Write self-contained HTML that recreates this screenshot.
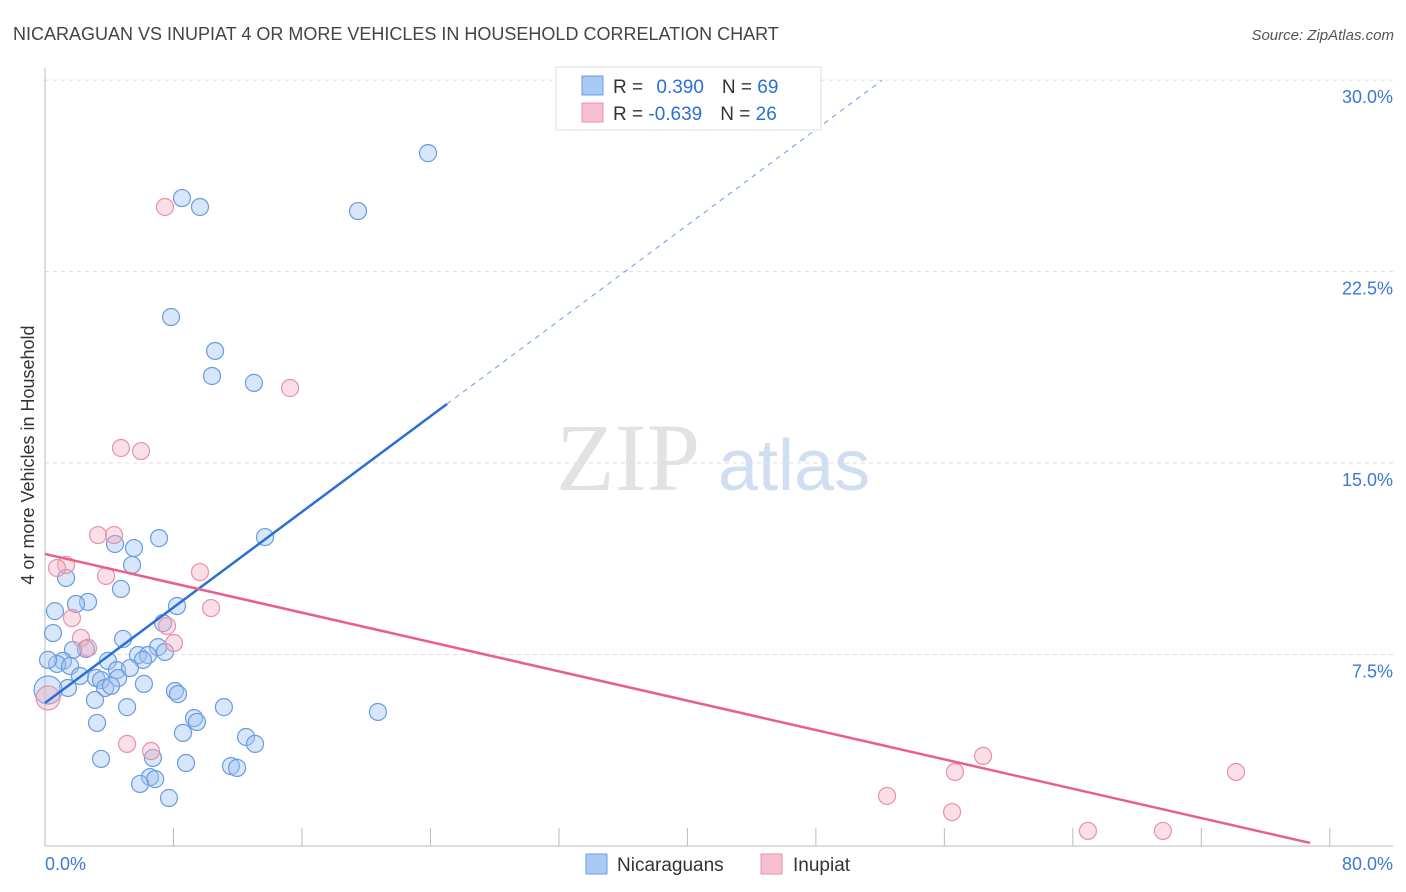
<!DOCTYPE html>
<html><head><meta charset="utf-8"><style>
body{margin:0;background:#fff;font-family:"Liberation Sans",sans-serif}
svg{display:block}
</style></head><body>
<svg id="c" width="1406" height="892">
<text x="13" y="40" font-size="18" fill="#444">NICARAGUAN VS INUPIAT 4 OR MORE VEHICLES IN HOUSEHOLD CORRELATION CHART</text>
<text x="1394" y="40" font-size="15" fill="#555" font-style="italic" text-anchor="end">Source: ZipAtlas.com</text>
<text x="556" y="490" font-size="96" fill="#e2e2e2" font-family="Liberation Serif,serif">ZIP</text>
<text x="718" y="490" font-size="72" fill="#d0def2">atlas</text>
<text transform="translate(34,455) rotate(-90)" font-size="18" fill="#333" text-anchor="middle">4 or more Vehicles in Household</text>
<g id="grid"></g><g id="marks"></g>
<g>
<rect x="556" y="67" width="265" height="63" fill="#fff" stroke="#ddd"/>
<rect x="582" y="76" width="21" height="19" fill="#a9c8f2" stroke="#6a9be0"/>
<rect x="582" y="103" width="21" height="19" fill="#f7c0cf" stroke="#e891a8"/>
<text x="613" y="93" font-size="19" fill="#333">R = <tspan fill="#2b6fd6" dx="8">0.390</tspan><tspan fill="#333" dx="18">N = </tspan><tspan fill="#2b6fd6">69</tspan></text>
<text x="613" y="120" font-size="19" fill="#333">R = <tspan fill="#2b6fd6">-0.639</tspan><tspan fill="#333" dx="18">N = </tspan><tspan fill="#2b6fd6">26</tspan></text>
</g>
<g>
<rect x="586" y="854" width="21" height="20" fill="#a9c8f2" stroke="#6a9be0"/>
<text x="617" y="871" font-size="19" fill="#333">Nicaraguans</text>
<rect x="761" y="854" width="21" height="20" fill="#f7c0cf" stroke="#e891a8"/>
<text x="793" y="871" font-size="19" fill="#333">Inupiat</text>
</g>
</svg>
<script>
const blueX=[23.85,8.53,9.65,19.49,7.85,10.59,10.40,13.01,13.70,7.10,4.36,5.54,5.42,1.31,4.73,0.62,2.68,1.93,8.22,0.50,4.86,7.35,7.04,2.55,1.74,7.47,5.79,6.41,6.10,3.92,1.12,0.75,1.56,0.19,4.48,5.29,2.18,3.18,3.49,4.55,6.16,1.43,3.74,4.11,0.19,8.09,8.28,3.11,5.11,11.14,20.73,9.28,9.46,3.24,8.59,12.52,13.08,3.49,6.72,8.78,11.58,11.96,6.54,6.86,5.92,7.72];
const blueY=[27.14,25.38,25.03,24.87,20.72,19.39,18.41,18.14,12.10,12.06,11.83,11.67,11.01,10.50,10.07,9.20,9.56,9.48,9.40,8.34,8.11,8.73,7.79,7.72,7.68,7.60,7.48,7.48,7.29,7.25,7.25,7.13,7.05,7.29,6.89,6.97,6.66,6.58,6.50,6.58,6.35,6.19,6.19,6.27,6.11,6.07,5.95,5.72,5.44,5.44,5.25,5.01,4.86,4.82,4.43,4.27,4.00,3.41,3.45,3.25,3.13,3.06,2.70,2.62,2.43,1.88];
const pinkX=[7.47,15.26,4.73,5.98,3.30,4.30,1.31,0.75,3.80,9.65,10.34,1.68,2.24,2.68,7.60,8.03,0.19,5.11,6.60,52.43,56.66,58.41,56.48,64.94,69.61,74.16];
const pinkY=[25.03,17.94,15.59,15.47,12.18,12.18,11.01,10.89,10.58,10.73,9.32,8.93,8.15,7.76,8.62,7.95,5.80,4.00,3.72,1.96,2.90,3.53,1.33,0.59,0.59,2.90];
const blueTrend=[5.60,0.468];
const pinkTrend=[11.44,-0.1437];
const yTicks=[7.5,15,22.5,30];
const yTickLabels=["7.5%","15.0%","22.5%","30.0%"];
const xTicks=[0,8,16,24,32,40,48,56,64,72,80];
const xs=v=>45+v*16.06, ys=v=>846-v*25.53;
const NS="http://www.w3.org/2000/svg";
const grid=document.getElementById('grid'), marks=document.getElementById('marks');
function mk(p,tag,a){const e=document.createElementNS(NS,tag);for(const k in a)e.setAttribute(k,a[k]);p.appendChild(e);return e;}
yTicks.forEach((t,i)=>{
 const l=mk(grid,'line',{x1:45,x2:1393,y1:ys(t),y2:ys(t),stroke:'#ddd','stroke-dasharray':'4,4'});
 
 
 const tx=mk(grid,'text',{x:1393,y:ys(t)+23,'font-size':18,fill:'#3b78d8','text-anchor':'end'});
 tx.textContent=yTickLabels[i];
 
 
});
const ax=mk(grid,'line',{x1:45,x2:1393,y1:846,y2:846,stroke:'#bbb'});


const ay=mk(grid,'line',{x1:45,x2:45,y1:68,y2:846,stroke:'#bbb'});


xTicks.forEach(t=>{const l=mk(grid,'line',{x1:xs(t),x2:xs(t),y1:828,y2:846,stroke:'#bbb'});
 
 });
const x0=mk(grid,'text',{x:45,y:870,'font-size':18,fill:'#3b78d8'});x0.textContent='0.0%';


const x1=mk(grid,'text',{x:1393,y:870,'font-size':18,fill:'#3b78d8','text-anchor':'end'});x1.textContent='80.0%';


blueX.forEach((v,i)=>{const c=mk(marks,'circle',{cx:xs(v),cy:ys(blueY[i]),r:i==44?14:8.5,fill:'rgba(160,196,240,0.42)',stroke:'#6a9be0','stroke-width':1.2});
 
 });
pinkX.forEach((v,i)=>{const c=mk(marks,'circle',{cx:xs(v),cy:ys(pinkY[i]),r:i==16?12:8.5,fill:'rgba(245,170,190,0.38)',stroke:'#e891a8','stroke-width':1.2});
 
 });
const bEnd=25.03, bMax=(30-blueTrend[0])/blueTrend[1];
const bl=mk(marks,'line',{x1:xs(0),y1:ys(blueTrend[0]),x2:xs(bEnd),y2:ys(blueTrend[0]+blueTrend[1]*bEnd),stroke:'#2b6fd6','stroke-width':2.5});


const bd=mk(marks,'line',{x1:xs(bEnd),y1:ys(blueTrend[0]+blueTrend[1]*bEnd),x2:xs(bMax),y2:ys(30),stroke:'#6a9be0','stroke-width':1,'stroke-dasharray':'5,5'});


const pEnd=78.77;
const pl=mk(marks,'line',{x1:xs(0),y1:ys(pinkTrend[0]),x2:xs(pEnd),y2:ys(pinkTrend[0]+pinkTrend[1]*pEnd),stroke:'#e8608a','stroke-width':2.5});


</script>
</body></html>
